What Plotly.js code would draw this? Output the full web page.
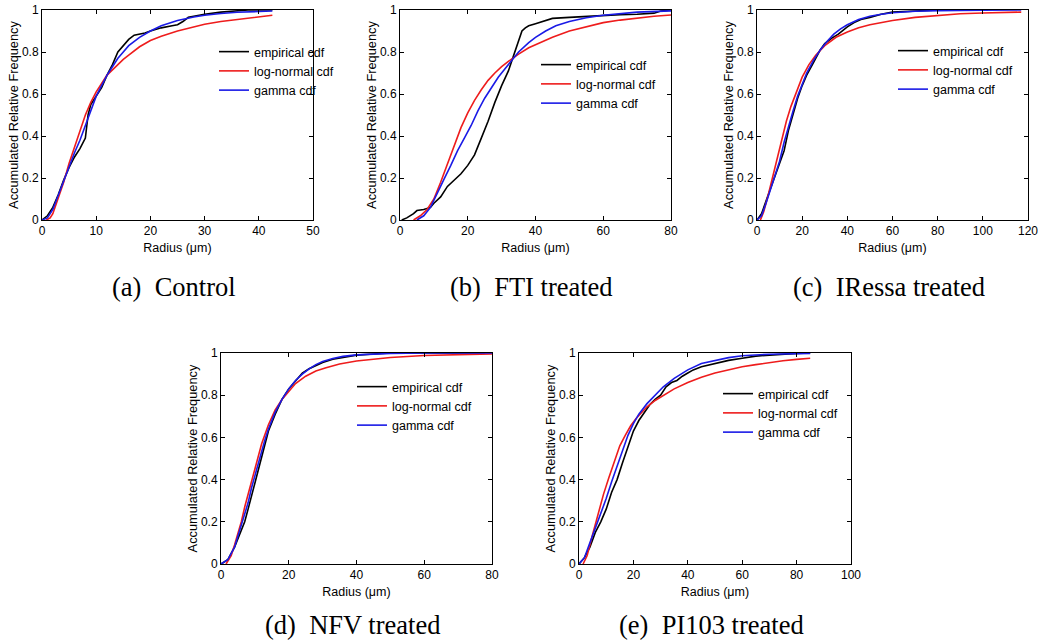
<!DOCTYPE html>
<html>
<head>
<meta charset="utf-8">
<script src="https://cdn.plot.ly/plotly-3.0.1.min.js"></script>
<style>html,body{margin:0;padding:0;background:#fff}#chart{width:1038px;height:641px}</style>
</head>
<body>
<div id="chart"></div>
<script>
// ---------- (a) Control ----------
const aEmpX = [0,1,2,3,4,5,6,7,8,8.5,9,10,11,12,13,14,15,16,17,18,19,20,22,24,25,26,27,28,30,33,35,38,42.5];
const aEmpY = [0,0.02,0.06,0.12,0.19,0.25,0.3,0.34,0.39,0.5,0.55,0.59,0.63,0.69,0.74,0.8,0.83,0.86,0.88,0.885,0.89,0.9,0.915,0.925,0.93,0.945,0.965,0.97,0.98,0.99,0.995,1,1];
const aLogX = [0.8,1.5,2,3,4,5,6,7,8,9,10,11,12,13,14,15,16,18,20,22,25,28,30,33,36,40,42.5];
const aLogY = [0,0.01,0.03,0.1,0.18,0.27,0.35,0.43,0.5,0.56,0.61,0.65,0.69,0.715,0.74,0.765,0.785,0.825,0.855,0.875,0.9,0.92,0.932,0.945,0.955,0.967,0.975];
const aGamX = [0,1,2,3,4,5,6,7,8,9,10,11,12,13,14,15,16,18,20,22,25,28,30,33,36,40,42.5];
const aGamY = [0,0.01,0.05,0.12,0.19,0.26,0.32,0.38,0.45,0.52,0.59,0.64,0.69,0.73,0.77,0.8,0.83,0.87,0.9,0.925,0.95,0.967,0.975,0.983,0.989,0.993,0.995];

// ---------- (b) FTI treated ----------
const bEmpX = [0.5,2,4,5,7,9,10,12,14,16,18,20,22,24,26,28,30,32,34,35,36,37,38,40,42,45,50,55,60,65,70,75,77,80];
const bEmpY = [0,0.01,0.03,0.045,0.05,0.06,0.08,0.11,0.16,0.19,0.22,0.26,0.31,0.39,0.47,0.56,0.64,0.71,0.8,0.85,0.9,0.915,0.925,0.935,0.945,0.96,0.965,0.97,0.975,0.978,0.98,0.985,0.995,1];
const bLogX = [4,6,8,10,12,14,16,18,20,22,24,26,28,30,32,35,38,40,45,50,55,60,65,70,75,80];
const bLogY = [0,0.02,0.05,0.1,0.18,0.27,0.36,0.44,0.51,0.57,0.62,0.665,0.7,0.73,0.755,0.79,0.82,0.835,0.87,0.9,0.92,0.94,0.952,0.962,0.97,0.976];
const bGamX = [5,7,9,11,13,15,17,19,21,23,25,27,29,31,33,35,38,40,43,46,50,55,60,65,70,80];
const bGamY = [0,0.02,0.06,0.13,0.195,0.26,0.33,0.39,0.45,0.52,0.58,0.63,0.68,0.72,0.76,0.8,0.845,0.87,0.9,0.925,0.945,0.963,0.975,0.983,0.99,0.996];

// ---------- (c) IRessa treated ----------
const cEmpX = [0,2,4,6,8,10,12,14,16,18,20,22,25,28,30,33,36,40,43,46,50,55,60,65,70,80,93];
const cEmpY = [0,0.03,0.09,0.15,0.2,0.26,0.33,0.43,0.51,0.58,0.64,0.69,0.75,0.81,0.84,0.865,0.885,0.92,0.94,0.955,0.965,0.98,0.99,0.993,0.997,1,1];
const cLogX = [1.5,3,5,7,9,11,13,15,17,20,23,26,30,35,40,45,50,55,60,70,80,90,100,117];
const cLogY = [0,0.04,0.12,0.21,0.3,0.39,0.47,0.54,0.6,0.68,0.74,0.785,0.83,0.87,0.895,0.915,0.93,0.94,0.95,0.965,0.975,0.982,0.986,0.99];
const cGamX = [0,2,4,6,8,10,12,14,16,18,20,22,25,28,31,34,37,40,45,50,55,60,70,80,100,117];
const cGamY = [0,0.02,0.08,0.15,0.21,0.28,0.37,0.45,0.52,0.59,0.65,0.7,0.76,0.81,0.85,0.885,0.91,0.93,0.955,0.97,0.98,0.987,0.994,0.997,0.999,1];

// ---------- (d) NFV treated ----------
const dEmpX = [0,2,4,5,6,7,8,9,10,11,12,13,14,16,18,20,22,24,26,28,30,33,36,40,45,50,60,70,78];
const dEmpY = [0,0.02,0.08,0.12,0.16,0.2,0.26,0.32,0.38,0.45,0.51,0.57,0.63,0.71,0.78,0.83,0.87,0.905,0.925,0.94,0.955,0.97,0.98,0.99,0.995,1,1,1,1];
const dLogX = [1.5,3,4,5,6,7,8,9,10,11,12,14,16,18,20,22,25,28,31,35,40,45,50,60,70,80];
const dLogY = [0,0.04,0.09,0.14,0.2,0.27,0.33,0.4,0.46,0.52,0.57,0.66,0.73,0.78,0.82,0.855,0.89,0.915,0.93,0.948,0.962,0.972,0.979,0.988,0.993,0.996];
const dGamX = [0,2,4,5,6,7,8,9,10,11,12,13,14,16,18,20,22,24,26,28,30,33,36,40,50,60,80];
const dGamY = [0,0.02,0.08,0.13,0.18,0.23,0.29,0.36,0.42,0.48,0.54,0.59,0.64,0.72,0.78,0.83,0.87,0.9,0.925,0.945,0.96,0.974,0.984,0.991,0.998,1,1];

// ---------- (e) PI103 treated ----------
const eEmpX = [0,2,4,6,8,10,12,14,16,18,20,22,24,26,28,30,32,34,36,38,40,42,45,50,55,60,65,70,75,80,85];
const eEmpY = [0,0.03,0.08,0.15,0.2,0.26,0.34,0.4,0.48,0.56,0.63,0.68,0.72,0.755,0.78,0.8,0.84,0.86,0.87,0.89,0.905,0.92,0.935,0.95,0.965,0.975,0.985,0.99,0.995,0.998,1];
const eLogX = [1.5,3,5,7,9,11,13,15,17,19,21,23,25,28,31,35,40,45,50,55,60,65,70,75,80,85];
const eLogY = [0,0.04,0.14,0.24,0.33,0.41,0.49,0.56,0.61,0.655,0.69,0.72,0.745,0.775,0.8,0.83,0.86,0.885,0.905,0.92,0.935,0.945,0.955,0.963,0.97,0.975];
const eGamX = [0,2,4,6,8,10,12,14,16,18,20,22,25,28,31,35,40,45,50,55,60,70,85];
const eGamY = [0,0.03,0.1,0.17,0.23,0.31,0.39,0.46,0.54,0.61,0.665,0.71,0.76,0.8,0.84,0.88,0.92,0.95,0.965,0.978,0.987,0.994,0.998];

const seriesNames = ['empirical cdf','log-normal cdf','gamma cdf'];
const seriesColors = ['#000000','#ee1c1c','#1a1ae6'];
const captions = ['(a)  Control','(b)  FTI treated','(c)  IRessa treated','(d)  NFV treated','(e)  PI103 treated'];
const xTicks = [
  [0,10,20,30,40,50],
  [0,20,40,60,80],
  [0,20,40,60,80,100,120],
  [0,20,40,60,80],
  [0,20,40,60,80,100]
];
const yTickVals = [0,0.2,0.4,0.6,0.8,1];

const panels = [
  [[aEmpX,aEmpY],[aLogX,aLogY],[aGamX,aGamY]],
  [[bEmpX,bEmpY],[bLogX,bLogY],[bGamX,bGamY]],
  [[cEmpX,cEmpY],[cLogX,cLogY],[cGamX,cGamY]],
  [[dEmpX,dEmpY],[dLogX,dLogY],[dGamX,dGamY]],
  [[eEmpX,eEmpY],[eLogX,eLogY],[eGamX,eGamY]]
];

// layout geometry (pixels)
const W = 1038, H = 641;
const boxes = [ // left, right, top, bottom
  [42,313,10,220],[400,671,10,220],[757,1028,10,220],
  [221,492,353,564],[579,851,353,564]
];
// legend box left x, middle row y (panel a compensates for a rendering offset)
const legendPos = [
  [214,70],[536,83],[893,69],[352,405],[718,412]
];
const capY = [287,287,287,625,625];

const px = x => x / W;
const py = y => 1 - y / H;

const data = [];
const layout = {
  width: W, height: H,
  margin: {l:0,r:0,t:0,b:0},
  paper_bgcolor: '#ffffff', plot_bgcolor: '#ffffff',
  font: {family: 'Liberation Sans, Arial, sans-serif', color: '#000', size: 12},
  annotations: [],
  legend: {visible: false}
};

panels.forEach((p, i) => {
  const n = i + 1;
  const xa = n === 1 ? 'x' : 'x' + n;
  const ya = n === 1 ? 'y' : 'y' + n;
  const lg = 'legend' + (n + 1);
  p.forEach((s, k) => {
    data.push({
      type: 'scatter', mode: 'lines',
      x: s[0], y: s[1],
      name: seriesNames[k],
      line: {color: seriesColors[k], width: 1.6},
      xaxis: xa, yaxis: ya, legend: lg,
      hoverinfo: 'skip'
    });
  });
  const b = boxes[i];
  const axCommon = {
    showgrid: false, zeroline: false,
    showline: true, linecolor: '#000', linewidth: 1, mirror: 'ticks',
    ticks: 'inside', ticklen: 4, tickcolor: '#000', tickwidth: 1,
    tickfont: {size: 12, family: 'Liberation Sans, Arial, sans-serif', color: '#000'},
    ticklabeloverflow: 'allow',
    fixedrange: true
  };
  const xt = xTicks[i];
  layout['xaxis' + (n === 1 ? '' : n)] = Object.assign({}, axCommon, {
    domain: [px(b[0]), px(b[1])],
    range: [xt[0], xt[xt.length - 1]], tickvals: xt,
    anchor: ya,
    title: {text: 'Radius (μm)', font: {size: 12.5}, standoff: 5}
  });
  layout['yaxis' + (n === 1 ? '' : n)] = Object.assign({}, axCommon, {
    domain: [py(b[3]), py(b[2])],
    range: [0, 1], tickvals: yTickVals,
    anchor: xa,
    title: {text: 'Accumulated Relative Frequency', font: {size: 12.8}, standoff: 0}
  });
  const lp = legendPos[i];
  layout[lg] = {
    x: px(lp[0]), y: py(lp[1] - 33),
    xanchor: 'left', yanchor: 'top',
    bgcolor: 'rgba(0,0,0,0)', borderwidth: 0,
    font: {size: 12.5, family: 'Liberation Sans, Arial, sans-serif', color: '#000'},
    itemwidth: 30, tracegroupgap: 0
  };
  layout.annotations.push({
    text: captions[i], showarrow: false,
    xref: 'paper', yref: 'paper',
    x: px((b[0] + b[1]) / 2 - 4), y: py(capY[i]),
    xanchor: 'center', yanchor: 'middle',
    font: {family: 'Liberation Serif, Times New Roman, serif', size: 26.5, color: '#000'}
  });
});

Plotly.newPlot('chart', data, layout, {displayModeBar: false, staticPlot: true});
</script>
</body>
</html>
